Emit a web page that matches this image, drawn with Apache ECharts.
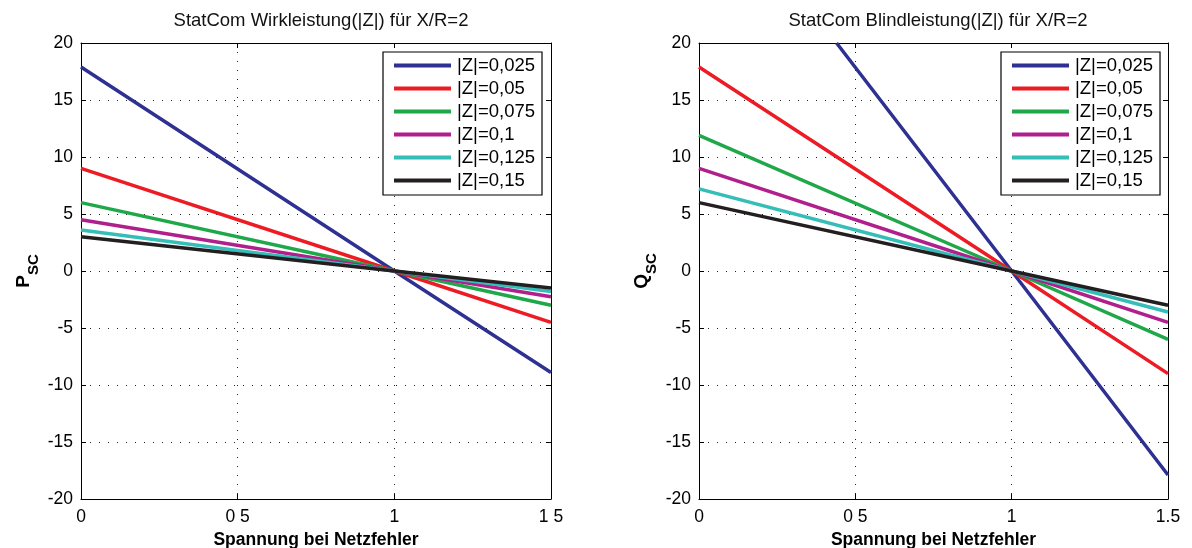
<!DOCTYPE html>
<html>
<head>
<meta charset="utf-8">
<script src="https://cdn.jsdelivr.net/npm/echarts@6/dist/echarts.min.js"></script>
<style>
html,body{margin:0;padding:0;background:#fff;}
#c{width:1192px;height:548px;}
</style>
</head>
<body>
<div id="c"></div>
<script>
// ---- data ----
var seriesNames = ['|Z|=0,025','|Z|=0,05','|Z|=0,075','|Z|=0,1','|Z|=0,125','|Z|=0,15'];
var colors = ['#2e3192','#ed1c24','#1fa84a','#b01f8c','#35bdb8','#231f20'];
// Left: Wirkleistung P_sc (x, y) points
var pZ025 = [[0,17.9],[1,0],[1.5,-8.9]];
var pZ05  = [[0,9.0],[1,0],[1.5,-4.5]];
var pZ075 = [[0,6.0],[1,0],[1.5,-3.0]];
var pZ1   = [[0,4.5],[1,0],[1.5,-2.25]];
var pZ125 = [[0,3.6],[1,0],[1.5,-1.8]];
var pZ15  = [[0,3.0],[1,0],[1.5,-1.5]];
// Right: Blindleistung Q_sc
var qZ025 = [[0.44,20],[1,0],[1.5,-17.9]];
var qZ05  = [[0,17.9],[1,0],[1.5,-9.0]];
var qZ075 = [[0,11.9],[1,0],[1.5,-6.0]];
var qZ1   = [[0,9.0],[1,0],[1.5,-4.5]];
var qZ125 = [[0,7.2],[1,0],[1.5,-3.6]];
var qZ15  = [[0,6.0],[1,0],[1.5,-3.0]];
var xTickLabelsLeft  = ['0','0 5','1','1 5'];
var xTickLabelsRight = ['0','0 5','1','1.5'];
var titleLeft  = 'StatCom Wirkleistung(|Z|) für X/R=2';
var titleRight = 'StatCom Blindleistung(|Z|) für X/R=2';
var xName = 'Spannung bei Netzfehler';

var pData = [pZ025,pZ05,pZ075,pZ1,pZ125,pZ15];
var qData = [qZ025,qZ05,qZ075,qZ1,qZ125,qZ15];

var FONT = '"Liberation Sans", Arial, Helvetica, sans-serif';
var chart = echarts.init(document.getElementById('c'));

function mainX(grid, labels){
  return {
    type:'value', gridIndex:grid, min:0, max:1.5, interval:0.5,
    axisLine:{show:true,onZero:false,lineStyle:{color:'#000',width:1}},
    axisTick:{inside:true,length:5,lineStyle:{color:'#000'}},
    axisLabel:{color:'#000',fontSize:17.5,fontFamily:FONT,margin:9,
      formatter:function(v){return labels[Math.round(v/0.5)];}},
    splitLine:{show:true,lineStyle:{type:[1,8],color:'#222',width:1}},
    name:xName, nameLocation:'middle', nameGap:31,
    nameTextStyle:{color:'#000',fontSize:17.5,fontWeight:'bold',fontFamily:FONT}
  };
}
function frameX(grid){
  return {type:'value', gridIndex:grid, position:'top', min:0, max:1.5, interval:0.5,
    axisLine:{show:true,onZero:false,lineStyle:{color:'#000'}},
    axisTick:{inside:true,length:5,lineStyle:{color:'#000'}},
    axisLabel:{show:false}, splitLine:{show:false}};
}
function mainY(grid, letter){
  return {
    type:'value', gridIndex:grid, min:-20, max:20, interval:5,
    axisLine:{show:true,onZero:false,lineStyle:{color:'#000'}},
    axisTick:{show:true,inside:true,length:5,lineStyle:{color:'#000'}},
    axisLabel:{color:'#000',fontSize:17.5,fontFamily:FONT,margin:8},
    splitLine:{show:true,lineStyle:{type:[1,8],color:'#222',width:1}},
    name:'{m|'+letter+'}{s|SC}', nameLocation:'middle', nameGap:48, nameRotate:90,
    nameTextStyle:{color:'#000',fontFamily:FONT,
      rich:{m:{fontSize:19,fontWeight:'bold',fontFamily:FONT,color:'#000'},
            s:{fontSize:15,fontWeight:'bold',fontFamily:FONT,color:'#000',verticalAlign:'bottom',padding:[0,0,-8,0]}}}
  };
}
function frameY(grid){
  return {type:'value', gridIndex:grid, position:'right', min:-20, max:20, interval:5,
    axisLine:{show:true,onZero:false,lineStyle:{color:'#000'}},
    axisTick:{show:true,inside:true,length:5,lineStyle:{color:'#000'}},
    axisLabel:{show:false}, splitLine:{show:false}};
}

var series = [];
for (var i=0;i<6;i++){
  series.push({name:seriesNames[i], type:'line', xAxisIndex:0, yAxisIndex:0,
    data:pData[i], showSymbol:false, symbol:'none', clip:true, animation:false,
    lineStyle:{width:3.5,color:colors[i]}, itemStyle:{color:colors[i]}});
}
for (var j=0;j<6;j++){
  series.push({name:seriesNames[j], type:'line', xAxisIndex:2, yAxisIndex:2,
    data:qData[j], showSymbol:false, symbol:'none', clip:true, animation:false,
    lineStyle:{width:3.5,color:colors[j]}, itemStyle:{color:colors[j]}});
}

function legend(left){
  return {
    data:seriesNames, orient:'vertical', left:left, top:52,
    icon:'rect', itemWidth:57, itemHeight:4, itemGap:4,
    borderColor:'#000', borderWidth:1.2, backgroundColor:'#fff',
    padding:[4,7,5,11], selectedMode:false,
    textStyle:{color:'#000',fontSize:18.5,fontFamily:FONT,lineHeight:19,padding:[0,0,0,1]}
  };
}

chart.setOption({
  backgroundColor:'#fff',
  animation:false,
  title:[
    {text:titleLeft, left:316, top:6, textAlign:'center',
     textStyle:{fontSize:18.5,fontWeight:'normal',color:'#111',fontFamily:FONT}},
    {text:titleRight, left:933, top:6, textAlign:'center',
     textStyle:{fontSize:18.5,fontWeight:'normal',color:'#111',fontFamily:FONT}}
  ],
  grid:[
    {left:81, top:43, width:470, height:456, outerBoundsMode:'none', containLabel:false},
    {left:699, top:43, width:469, height:456, outerBoundsMode:'none', containLabel:false}
  ],
  xAxis:[mainX(0,xTickLabelsLeft), frameX(0), mainX(1,xTickLabelsRight), frameX(1)],
  yAxis:[mainY(0,'P'), frameY(0), mainY(1,'Q'), frameY(1)],
  legend:[legend(383), legend(1001)],
  series:series
});
</script>
</body>
</html>
